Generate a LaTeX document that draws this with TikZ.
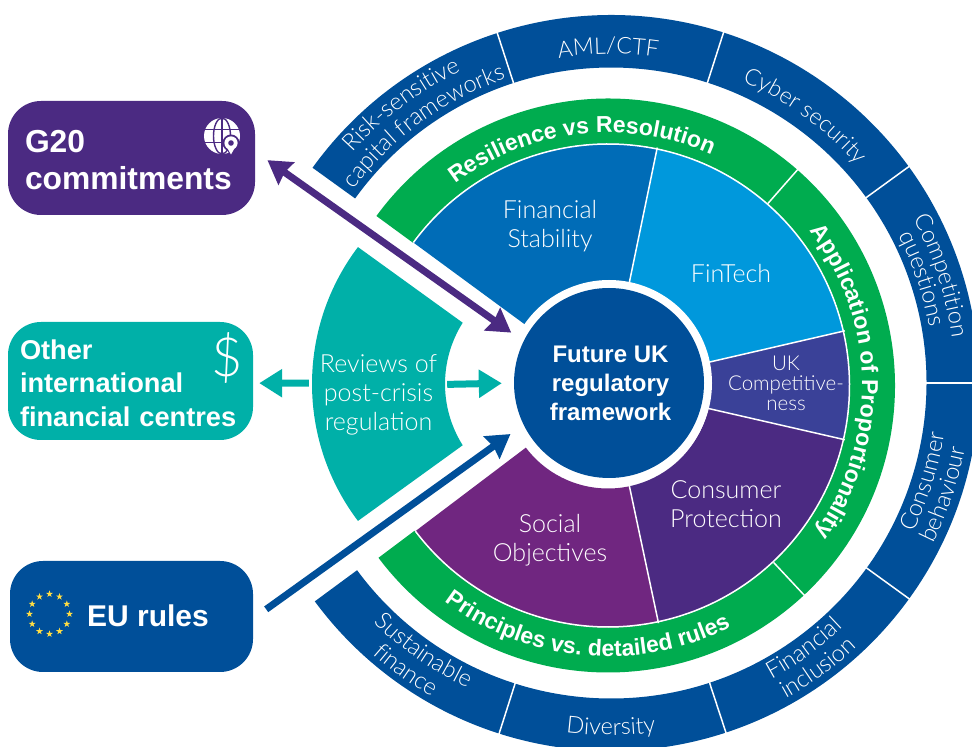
\documentclass[tikz,border=0pt]{standalone}
\usepackage{fontspec}
\setmainfont{Liberation Sans}
\newfontfamily\lightf{Lato Light}
\newfontfamily\boldf{Liberation Sans}[BoldFont={Liberation Sans Bold}]
\usetikzlibrary{arrows.meta,calc,decorations.text}
\definecolor{dblue}{HTML}{004F99}
\definecolor{dpurple}{HTML}{4B2A82}
\definecolor{tealc}{HTML}{00B0A8}
\definecolor{greenc}{HTML}{00AC4F}
\definecolor{fsblue}{HTML}{006CB7}
\definecolor{ftblue}{HTML}{0098DC}
\definecolor{ukblue}{HTML}{3A4198}
\definecolor{socialc}{HTML}{702680}
\definecolor{star}{HTML}{FFDD44}
\newcommand{\sector}[6]{\fill[#6] ($(#1)+(#2:#5)$) arc[start angle=#2,end angle=#3,radius=#5] -- ($(#1)+(#3:#4)$) arc[start angle=#3,end angle=#2,radius=#4] -- cycle;}
\newcommand{\divider}[4]{\draw[sepline] ($(#1)+(#2:#3)$) -- ($(#1)+(#2:#4)$);}
\newcommand{\cwtext}[5]{\path[decorate,decoration={text along path,text align=center,text={|#4\color{white}|#5}}] ($(#1)+(#3+80:#2)$) arc[start angle=#3+80,end angle=#3-80,radius=#2];}
\newcommand{\ccwtext}[5]{\path[decorate,decoration={text along path,text align=center,text={|#4\color{white}|#5}}] ($(#1)+(#3-80:#2)$) arc[start angle=#3-80,end angle=#3+80,radius=#2];}
\newcommand{\ringf}{\lightf\fontsize{23}{23}\selectfont}
\newcommand{\ringsm}{\lightf\fontsize{23.5}{24}\selectfont}
\newcommand{\greenf}{\boldf\bfseries\fontsize{23}{23}\selectfont}
\tikzset{
 sepline/.style={white,line width=1.5pt},
 bigbox/.style={rounded corners=33pt,align=left,text=white,inner xsep=17pt,inner ysep=0pt,font=\boldf\bfseries\fontsize{31.8}{37}\selectfont},
 seclabel/.style={text=white,align=center,font=\lightf\fontsize{25}{29}\selectfont,inner sep=0pt},
 longarrow/.style={line width=7pt,-{Stealth[length=23pt,width=27pt,inset=2pt]}},
 bothways/.style={line width=7pt,{Stealth[length=23pt,width=27pt,inset=2pt]}-{Stealth[length=23pt,width=27pt,inset=2pt]}},
 tealarrow/.style={line width=7pt,tealc,-{Triangle[length=23pt,width=27pt]}},
}
\begin{document}
\begin{tikzpicture}[x=1pt,y=1pt]
\clip (0,0) rectangle (972,747);
\coordinate (oc) at (611,364);
\coordinate (gc) at (608,361.5);
% outer ring
\sector{oc}{144.2}{-143.6}{315.5}{368}{dblue}
\divider{oc}{108}{315}{369}
\divider{oc}{72.2}{315}{369}
\divider{oc}{36}{315}{369}
\divider{oc}{0}{315}{369}
\divider{oc}{-35.9}{315}{369}
\divider{oc}{-71.8}{315}{369}
\divider{oc}{-107.7}{315}{369}
% green ring
\sector{gc}{143.8}{-143.1}{242}{287}{greenc}
\divider{gc}{48.7}{242}{288}
\divider{gc}{-46.9}{242}{288}
% inner sectors
\sector{gc}{143.7}{78.3}{103}{242}{fsblue}
\sector{gc}{78.3}{13}{103}{242}{ftblue}
\sector{gc}{13}{-12.9}{103}{242}{ukblue}
\sector{gc}{-12.9}{-78}{103}{242}{dpurple}
\sector{gc}{-78}{-142.9}{103}{242}{socialc}
\divider{gc}{78.3}{100}{243}
\divider{gc}{13}{100}{243}
\divider{gc}{-12.9}{100}{243}
\divider{gc}{-78}{100}{243}
\draw[sepline] (gc) ++(143.7:241.5) arc[start angle=143.7,end angle=-142.9,radius=241.5];
\fill[white] (609,364) circle[radius=103];
% teal reviews sector
\fill[tealc] ($(539,363)+(142.9:227)$) arc[start angle=142.9,end angle=217.1,radius=227] -- ($(560,363)+(212.2:115)$) arc[start angle=212.2,end angle=147.8,radius=115] -- cycle;
% nodes
\node[circle,fill=dblue,minimum size=190pt,inner sep=0pt,text=white,align=center,font=\boldf\bfseries\fontsize{24}{29}\selectfont] (core) at (609,364) {\hspace*{3pt}Future UK\\\hspace*{3pt}regulatory\\\hspace*{3pt}framework};
\node[bigbox,fill=dpurple,minimum width=247pt,minimum height=114pt,text width=213pt] (g20) at (131.5,589) {\rule{0pt}{26pt}G20\\commitments};
\node[bigbox,fill=tealc,minimum width=245pt,minimum height=118pt,text width=221pt,inner xsep=12pt,font=\boldf\bfseries\fontsize{27.2}{33.2}\selectfont] (other) at (130.5,366) {\rule{0pt}{24pt}Other\\international\\financial centres};
\node[bigbox,fill=dblue,minimum width=243pt,minimum height=111pt,text width=166pt,inner xsep=0pt,xshift=0pt] (eu) at (131.5,130.5) {};
\node[text=white,font=\boldf\bfseries\fontsize{30}{36}\selectfont,inner sep=0pt] (eulabel) at (148,131) {EU rules};
\node[text=white,font=\lightf\fontsize{54}{54}\selectfont,inner sep=0pt] (dollar) at (227,389.5) {\$};
\node[seclabel,minimum width=133pt,minimum height=90pt] (reviews) at (378.5,352) {Reviews of\\post-crisis\\regulation};
\node[seclabel] (fs) at (550,521) {Financial\\Stability};
\node[seclabel] (ft) at (731,474) {FinTech};
\node[seclabel,font=\lightf\fontsize{20.5}{20}\selectfont] (uk) at (786,364) {UK\\Competitive-\\ness};
\node[seclabel] (cp) at (726,243) {Consumer\\Protection};
\node[seclabel] (so) at (550,207) {Social\\Objectives};
% globe
\begin{scope}[shift={(222,611)}]
\fill[white] (0,0) circle[radius=18];
\draw[dpurple,line width=1.4pt] (0,0) ellipse[x radius=8.5,y radius=18];
\draw[dpurple,line width=1.4pt] (-18,6.5) -- (18,6.5) (-18,-6.5) -- (18,-6.5) (0,18) -- (0,-18);
\fill[dpurple] (9,-7) circle[radius=8.5];
\fill[dpurple] (3,-10) -- (9,-21) -- (15,-10) -- cycle;
\fill[white] (9,-7) circle[radius=6.6];
\fill[white] (4.5,-10.5) -- (9,-18.5) -- (13.5,-10.5) -- cycle;
\fill[dpurple] (9,-7) circle[radius=2.8];
\end{scope}
% EU stars
\foreach \a in {0,30,...,330}{
 \fill[star,shift={($(49.5,133)+(\a:20)$)}] (90:3.6) -- (126:1.4) -- (162:3.6) -- (198:1.4) -- (234:3.6) -- (270:1.4) -- (306:3.6) -- (342:1.4) -- (18:3.6) -- (54:1.4) -- cycle;
}
% connectors
\draw[bothways,dpurple,shorten <=15pt,shorten >=15pt] (g20.3.5) -- (core.154.5);
\draw[longarrow,dblue,shorten <=16pt,shorten >=16pt] (eu.-1.3) -- (core.206.4);
\draw[tealarrow,shorten <=2pt,shorten >=12pt] (reviews.9.4) -- (core.180.6);
\draw[tealarrow,shorten <=3pt,shorten >=6pt] (reviews.170.6) -- (other.-1.4);
% curved labels
\cwtext{gc}{253}{96.5}{\greenf}{Resilience vs Resolution}
\cwtext{gc}{254}{1}{\greenf}{Application of Proportionality}
\ccwtext{gc}{271}{265}{\greenf}{Principles vs. detailed rules}
\cwtext{oc}{329}{90.5}{\ringf}{AML/CTF}
\cwtext{oc}{329}{54}{\ringf}{Cyber security}
\cwtext{oc}{344}{18}{\ringsm}{Competition}
\cwtext{oc}{323}{18.5}{\ringsm}{questions}
\ccwtext{oc}{337}{-17.5}{\ringsm}{Consumer}
\ccwtext{oc}{360}{-18.5}{\ringsm}{behaviour}
\ccwtext{oc}{337}{-54}{\ringsm}{Financial}
\ccwtext{oc}{361}{-54}{\ringsm}{inclusion}
\ccwtext{oc}{352}{-90}{\ringsm}{Diversity}
\ccwtext{oc}{337}{235}{\ringsm}{Sustainable}
\ccwtext{oc}{361}{234.5}{\ringsm}{finance}
\cwtext{oc}{346}{127}{\ringsm}{Risk-sensitive}
\cwtext{oc}{322}{126}{\ringsm}{capital frameworks}
\end{tikzpicture}
\end{document}
